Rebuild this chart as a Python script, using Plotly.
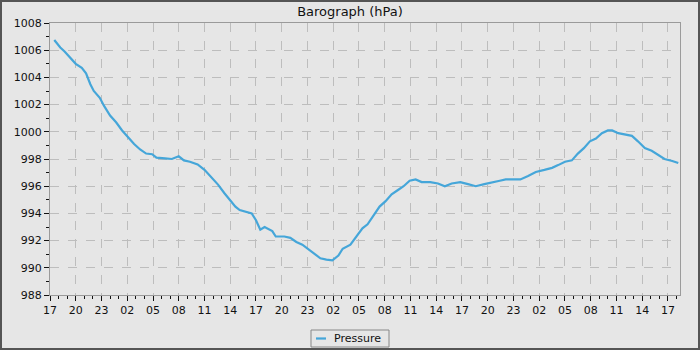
import plotly.graph_objects as go

hours = [0.5, 1.2, 1.7, 2.3, 3.0, 3.7, 4.2, 4.7, 5.1, 5.8, 6.3, 7.0, 7.7, 8.4, 9.1, 9.8,
         10.5, 11.2, 11.9, 12.4, 13.4, 14.2, 15.0, 15.6, 16.3, 17.2, 18.0, 18.9, 19.6,
         20.3, 21.0, 21.6, 22.1, 23.0, 23.5, 24.0, 24.5, 25.0, 25.9, 26.3, 27.3, 28.0,
         28.7, 29.4, 30.0, 30.8, 31.5, 32.2, 32.9, 33.6, 34.1, 35.0, 35.7, 36.4, 37.0,
         37.7, 38.4, 39.1, 39.8, 40.5, 41.2, 41.9, 42.6, 43.3, 44.3, 45.2, 46.0, 46.8,
         47.8, 48.7, 49.6, 50.6, 51.5, 52.4, 53.1, 54.1, 54.8, 55.7, 56.6, 57.6, 58.5,
         59.2, 60.0, 60.8, 61.5, 62.2, 62.9, 63.6, 64.3, 65.0, 65.5, 66.2, 67.0, 67.8,
         68.5, 69.3, 70.1, 70.8, 71.6, 72.5, 73.2]
pressure = [1006.75, 1006.2, 1005.9, 1005.5, 1005.0, 1004.7, 1004.3, 1003.5, 1003.0, 1002.5,
            1001.9, 1001.2, 1000.7, 1000.1, 999.6, 999.1, 998.7, 998.4, 998.35, 998.1,
            998.05, 998.0, 998.2, 997.9, 997.8, 997.6, 997.2, 996.6, 996.1, 995.5, 995.0,
            994.5, 994.25, 994.1, 994.0, 993.5, 992.8, 993.0, 992.7, 992.3, 992.3, 992.2,
            991.9, 991.7, 991.4, 991.0, 990.7, 990.6, 990.55, 990.9, 991.4, 991.7, 992.3,
            992.9, 993.2, 993.9, 994.5, 994.9, 995.4, 995.7, 996.0, 996.4, 996.5, 996.3,
            996.3, 996.2, 996.0, 996.2, 996.3, 996.15, 996.0, 996.15, 996.3, 996.4, 996.5,
            996.5, 996.5, 996.75, 997.05, 997.2, 997.35, 997.55, 997.8, 997.9, 998.4,
            998.8, 999.3, 999.5, 999.9, 1000.1, 1000.1, 999.9, 999.8, 999.7, 999.3, 998.8,
            998.6, 998.3, 998.0, 997.85, 997.7]

tick_hours = list(range(0, 73, 3))
tick_labels = ["17", "20", "23", "02", "05", "08", "11", "14", "17", "20", "23", "02", "05",
               "08", "11", "14", "17", "20", "23", "02", "05", "08", "11", "14", "17"]
series_name = "Pressure"

BG = "#e6e6e6"
GRID = "#bdbdbd"
AXIS = "#9a9a9a"
LINE = "#45a6d9"
FONT = "DejaVu Sans"
PW, PH = 630, 272  # plot area size in px


def px_x(p):
    return (p - 50) / PW


def px_y(p):
    return (295 - p) / PH


fig = go.Figure()
fig.add_trace(go.Scatter(x=hours, y=pressure, mode="lines", name=series_name,
                         line=dict(color=LINE, width=2.2), showlegend=False))

fig.update_layout(
    width=700, height=350,
    margin=dict(l=50, r=20, t=23, b=55, autoexpand=False),
    paper_bgcolor=BG, plot_bgcolor=BG,
    font=dict(family=FONT, size=11, color="#111"),
    title=dict(text="Barograph (hPa)", x=0.5, xanchor="center", y=1 - 11 / 350, yanchor="middle",
               font=dict(family=FONT, size=13, color="#111")),
    showlegend=False,
    xaxis=dict(range=[0, 73.4], tickmode="array", tickvals=tick_hours, ticktext=tick_labels,
               showgrid=True, gridcolor=GRID, griddash="dash", gridwidth=1,
               showline=True, linecolor=AXIS, linewidth=1, mirror=True,
               ticks="outside", ticklen=5, tickcolor="#111", zeroline=False,
               minor=dict(tickmode="linear", tick0=0, dtick=1, ticks="outside", ticklen=3,
                          tickcolor="#111", showgrid=False),
               tickfont=dict(family=FONT, size=11, color="#111")),
    yaxis=dict(range=[988, 1008], tickmode="linear", tick0=988, dtick=2,
               showgrid=True, gridcolor=GRID, griddash="dash", gridwidth=1,
               showline=True, linecolor=AXIS, linewidth=1, mirror=True,
               ticks="outside", ticklen=5, tickcolor="#111", zeroline=False,
               minor=dict(tickmode="linear", tick0=988, dtick=1, ticks="outside", ticklen=3,
                          tickcolor="#111", showgrid=False),
               tickfont=dict(family=FONT, size=11, color="#111")),
)

# outer dark frame
fig.add_shape(type="rect", xref="paper", yref="paper",
              x0=px_x(1), x1=px_x(699), y0=px_y(349), y1=px_y(1),
              line=dict(color="#555", width=2), fillcolor="rgba(0,0,0,0)", layer="above")

# legend box
fig.add_shape(type="rect", xref="paper", yref="paper",
              x0=px_x(311), x1=px_x(389), y0=px_y(347), y1=px_y(330),
              line=dict(color="#888", width=1), fillcolor=BG, layer="above")
fig.add_shape(type="line", xref="paper", yref="paper",
              x0=px_x(316), x1=px_x(326), y0=px_y(338.5), y1=px_y(338.5),
              line=dict(color=LINE, width=2.2), layer="above")
fig.add_annotation(text=series_name, xref="paper", yref="paper",
                   x=px_x(332), y=px_y(338), xanchor="left", yanchor="middle",
                   showarrow=False, font=dict(family=FONT, size=11, color="#111"))

fig.write_html("out.html")
